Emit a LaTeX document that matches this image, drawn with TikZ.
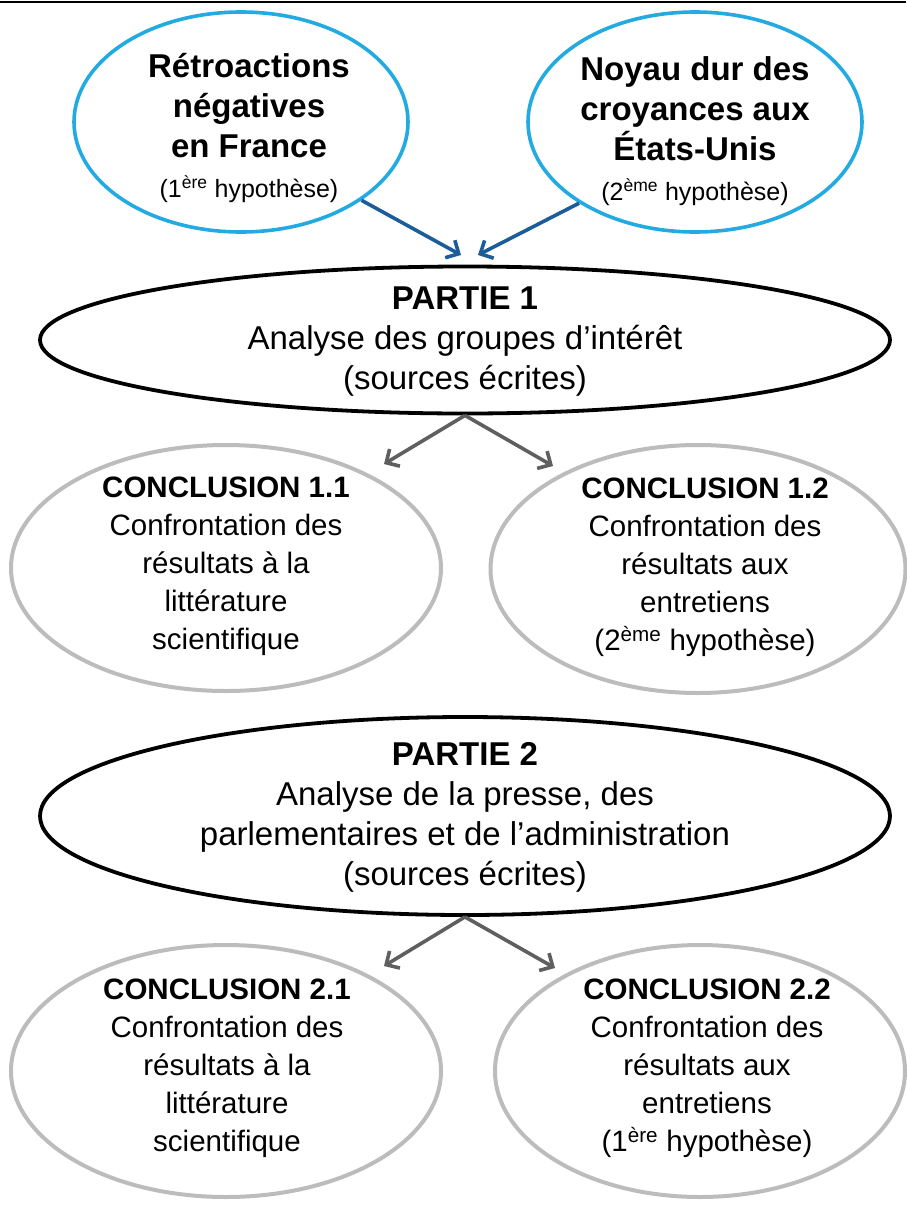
\documentclass[tikz,border=0pt]{standalone}
\usepackage{fontspec}
\setmainfont{Liberation Sans}
\usetikzlibrary{shapes.geometric,arrows.meta}
\definecolor{hypoblue}{RGB}{35,170,225}
\definecolor{arrowblue}{RGB}{28,92,152}
\definecolor{concgray}{RGB}{188,188,188}
\definecolor{arrowgray}{RGB}{95,95,95}
\newcommand{\grand}{\fontsize{33}{40}\selectfont}
\newcommand{\petit}{\fontsize{25}{30}\selectfont}
\newcommand{\moyen}{\fontsize{29.5}{38}\selectfont}

\begin{document}
\begin{tikzpicture}[x=1pt, y=-1pt,
	 hyponode/.style={draw=hypoblue, ellipse, line width=3.6pt, inner sep=0pt},
	 partnode/.style={draw=black, ellipse, line width=3.8pt, inner sep=0pt},
	 concnode/.style={draw=concgray, ellipse, line width=4pt, inner sep=0pt},
	 textnode/.style={align=center, inner sep=0pt},
	 bluearrow/.style={arrowblue, line width=3.6pt, -{Straight Barb[length=10pt,width=20pt]}},
	 grayarrow/.style={arrowgray, line width=3.6pt, -{Straight Barb[length=10pt,width=20pt]}}]
	    \useasboundingbox (0,0) rectangle (906,1205);
	    \draw[line width=2pt] (0,2) -- (906,2);
	    % hypotheses
	    \node at (241,122) [hyponode, minimum width=334pt, minimum height=220pt] (retro) {};
	    \node at (695,122) [hyponode, minimum width=334pt, minimum height=220pt] (noyau) {};
	    \node at (249,128) [textnode, font=\grand\bfseries] (retro-txt)
	        {Rétroactions\\négatives\\en France\\{\petit\mdseries (1\textsuperscript{ère} hypothèse)}};
	    \node at (695,131) [textnode, font=\grand\bfseries] (noyau-txt)
	        {Noyau dur des\\croyances aux\\États-Unis\\{\petit\mdseries (2\textsuperscript{ème} hypothèse)}};
	    % parties
	    \node at (465,340) [partnode, minimum width=850pt, minimum height=147pt] (partie1) {};
	    \node at (465,342) [textnode, font=\grand] (partie1-txt)
	        {\textbf{PARTIE 1}\\Analyse des groupes d’intérêt\\(sources écrites)};
	    \node at (465,816) [partnode, minimum width=850pt, minimum height=198pt] (partie2) {};
	    \node at (465,817) [textnode, font=\grand] (partie2-txt)
	        {\textbf{PARTIE 2}\\Analyse de la presse, des\\parlementaires et de l’administration\\(sources écrites)};
	    % conclusions
	    \node at (226,568) [concnode, minimum width=430pt, minimum height=246pt] (conc11) {};
	    \node at (698,569) [concnode, minimum width=415pt, minimum height=248pt] (conc12) {};
	    \node at (226,1071) [concnode, minimum width=430pt, minimum height=252pt] (conc21) {};
	    \node at (700,1071) [concnode, minimum width=410pt, minimum height=252pt] (conc22) {};
	    \node at (226,566) [textnode, font=\moyen] (conc11-txt)
	        {\textbf{CONCLUSION 1.1}\\Confrontation des\\résultats à la\\littérature\\scientifique};
	    \node at (705,567) [textnode, font=\moyen] (conc12-txt)
	        {\textbf{CONCLUSION 1.2}\\Confrontation des\\résultats aux\\entretiens\\(2\textsuperscript{ème} hypothèse)};
	    \node at (227,1068) [textnode, font=\moyen] (conc21-txt)
	        {\textbf{CONCLUSION 2.1}\\Confrontation des\\résultats à la\\littérature\\scientifique};
	    \node at (707,1068) [textnode, font=\moyen] (conc22-txt)
	        {\textbf{CONCLUSION 2.2}\\Confrontation des\\résultats aux\\entretiens\\(1\textsuperscript{ère} hypothèse)};
	    % arrows
	    \coordinate (tipL) at (461,255);
	    \coordinate (tipR) at (478,255);
	    \coordinate (a11) at (384,464);
	    \coordinate (a12) at (553,466);
	    \coordinate (a21) at (384,966);
	    \coordinate (a22) at (555,968);
	    \draw[bluearrow] (retro.-33) -- (tipL);
	    \draw[bluearrow] (noyau.215) -- (tipR);
	    \draw[grayarrow] (partie1.south) -- (a11);
	    \draw[grayarrow] (partie1.south) -- (a12);
	    \draw[grayarrow] (partie2.south) -- (a21);
	    \draw[grayarrow] (partie2.south) -- (a22);
\end{tikzpicture}
\end{document}
